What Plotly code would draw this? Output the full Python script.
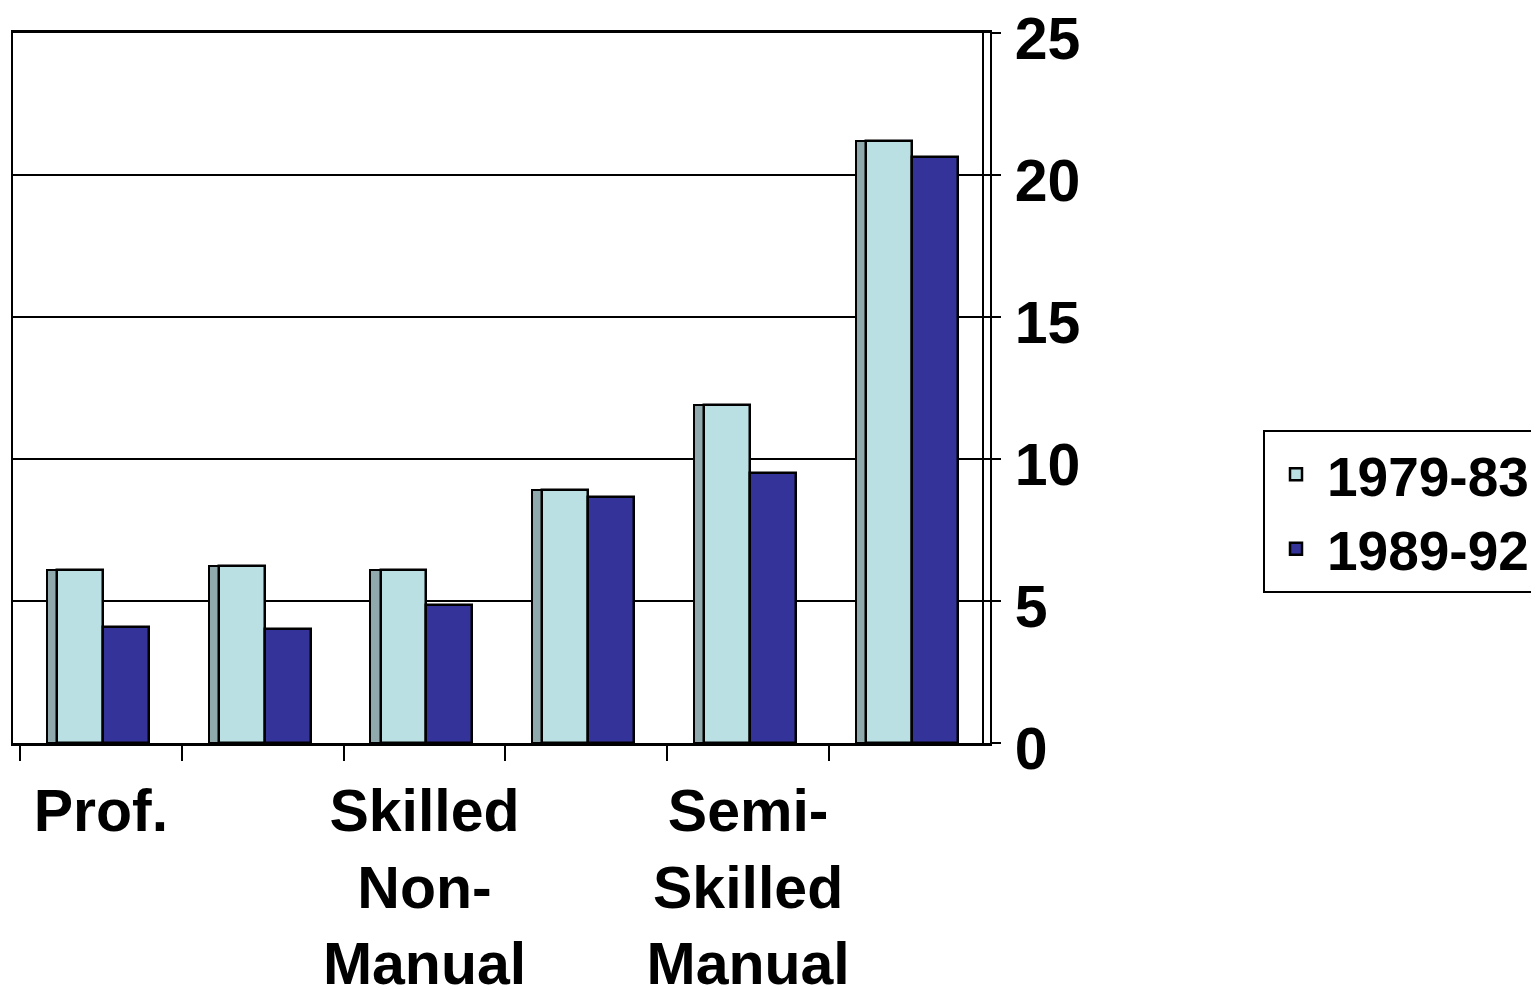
import plotly.graph_objects as go

categories = ["Prof.", "Managerial / Technical", "Skilled Non-Manual", "Skilled Manual",
              "Semi-Skilled Manual", "Unskilled"]
tick_labels = ["Prof.", "", "Skilled<br>Non-<br>Manual", "", "Semi-<br>Skilled<br>Manual", ""]
series_names = ["1979-83", "1989-92"]
values_1979_83 = [6.1, 6.25, 6.1, 8.9, 11.9, 21.2]
values_1989_92 = [4.1, 4.0, 4.85, 8.65, 9.5, 20.65]
y_ticks = [0, 5, 10, 15, 20, 25]

LIGHT = "#BBE0E3"
SIDE = "#8FA9AC"
DARK = "#333399"
FONT = dict(family="Liberation Sans, Arial, sans-serif", size=59, color="black", weight="bold")
LEGEND_FONT = dict(FONT, size=55)

xpos = list(range(len(categories)))
fig = go.Figure()
# side face (3D effect) of the light bars
fig.add_trace(go.Bar(x=xpos, y=values_1979_83, offset=-0.335, width=0.064,
                     marker=dict(color=SIDE, line=dict(color="black", width=2)),
                     showlegend=False, hoverinfo="skip"))
fig.add_trace(go.Bar(x=xpos, y=values_1979_83, name=series_names[0], offset=-0.272, width=0.284,
                     marker=dict(color=LIGHT, line=dict(color="black", width=2.5))))
fig.add_trace(go.Bar(x=xpos, y=values_1989_92, name=series_names[1], offset=0.012, width=0.284,
                     marker=dict(color=DARK, line=dict(color="black", width=2.5))))

# page body adds an 8px offset; compensate so the picture lands where the reference is
OFF = 8
W, H = 1539, 990
PX_L, PX_R, PX_T, PX_B = 13 - OFF, 990 - OFF, 33 - OFF, 743 - OFF
fig.update_layout(
    width=W, height=H,
    margin=dict(l=PX_L, r=W - PX_R, t=PX_T, b=H - PX_B, autoexpand=False),
    paper_bgcolor="white", plot_bgcolor="white",
    barmode="overlay", bargap=0,
    hovermode=False,
    font=FONT,
    legend=dict(x=(1263 - OFF - PX_L) / (PX_R - PX_L),
                y=(PX_B - (511.5 - OFF)) / (PX_B - PX_T),
                xanchor="left", yanchor="middle",
                bordercolor="black", borderwidth=2, bgcolor="white",
                font=LEGEND_FONT, itemwidth=52, traceorder="normal", tracegroupgap=0),
)
fig.update_xaxes(
    type="linear", range=[-0.5433, 5.495],
    tickmode="array", tickvals=xpos, ticktext=tick_labels,
    ticks="outside", ticklen=14, tickcolor="rgba(0,0,0,0)",
    tickfont=FONT, ticklabeloverflow="allow",
    minor=dict(tickmode="array", tickvals=[i - 0.5 for i in range(len(categories) + 1)],
               ticks="outside", ticklen=15, tickwidth=2, tickcolor="black", showgrid=False),
    showline=True, linecolor="black", linewidth=3, mirror=True,
    showgrid=False, zeroline=False, fixedrange=True,
)
fig.update_yaxes(
    side="right", range=[0, 25], tickmode="array", tickvals=y_ticks,
    ticks="outside", ticklen=9, tickwidth=2, tickcolor="black",
    ticklabelstandoff=2, ticklabelshift=5, tickfont=FONT, ticklabeloverflow="allow",
    showline=True, linecolor="black", linewidth=2, mirror=True,
    showgrid=True, gridcolor="black", gridwidth=2, zeroline=False, fixedrange=True,
)
# inner back-wall edge line (second line of the double right border)
fig.add_shape(type="line", xref="paper", yref="paper",
              x0=(983 - 990) / (PX_R - PX_L) + 1, x1=(983 - 990) / (PX_R - PX_L) + 1, y0=0, y1=1,
              line=dict(color="black", width=2))

fig.write_html("out.html")
